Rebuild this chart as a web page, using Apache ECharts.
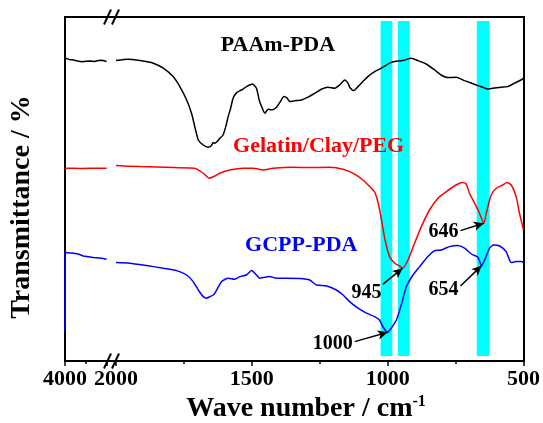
<!DOCTYPE html>
<html>
<head>
<meta charset="utf-8">
<script src="https://cdn.jsdelivr.net/npm/echarts@6/dist/echarts.min.js"></script>
<style>
  html, body { margin: 0; padding: 0; background: #ffffff; }
  #chart { width: 543px; height: 423px; }
</style>
</head>
<body>
<div id="chart"></div>
<script>
// FTIR spectra: [wavenumber (cm-1), transmittance (a.u., offset for stacking)]
const paamPda = [
  [4000,151.5],[3800,150.8],[3600,150.5],[3400,150.0],[3200,149.6],[3000,149.9],[2800,150.0],
  [2600,149.7],[2400,150.2],[2250,150.4],[2100,150.0],[2020,149.7],
  [2000,150.2],[1955,150.9],[1912,150.2],[1863,148.9],[1826,146.4],[1790,142.2],[1765,137.2],
  [1740,130.5],[1722,123.9],[1710,117.2],[1697,110.5],[1679,108.0],[1661,106.9],[1650,107.5],
  [1642,109.3],[1636,108.9],[1618,111.3],[1606,113.0],[1596,117.2],[1587,122.2],[1578,126.4],
  [1569,131.4],[1556,134.2],[1538,135.5],[1520,137.2],[1498,138.5],[1483,136.4],[1473,130.5],
  [1464,127.2],[1452,123.9],[1440,125.9],[1428,125.5],[1409,126.9],[1395,129.7],[1382,132.2],
  [1370,131.4],[1360,129.7],[1338,130.2],[1317,130.5],[1293,131.9],[1268,133.9],[1244,135.9],
  [1220,136.9],[1195,136.4],[1177,138.0],[1158,140.5],[1146,138.9],[1140,136.9],[1125,135.2],
  [1109,137.2],[1091,139.7],[1073,142.2],[1048,144.7],[1023,146.4],[993,148.9],[974,149.7],
  [944,150.2],[913,151.4],[889,150.2],[858,148.5],[827,145.5],[803,143.0],[778,141.7],
  [748,141.9],[717,140.2],[674,138.0],[650,136.9],[631,136.0],[613,136.4],[582,136.9],
  [558,137.2],[533,138.9],[503,141.0],[500,141.5]
];

const gelatinClayPeg = [
  [4000,96.4],[3600,96.4],[3200,96.3],[2800,96.4],[2400,96.4],[2020,96.4],
  [2000,97.7],[1912,97.2],[1790,96.7],[1710,96.4],[1679,93.9],[1657,91.4],[1636,92.5],
  [1618,93.9],[1581,95.5],[1532,96.4],[1495,96.4],[1459,95.5],[1422,96.4],[1348,96.9],
  [1287,96.7],[1213,96.9],[1164,95.9],[1128,93.9],[1091,90.5],[1066,87.2],[1048,84.5],
  [1036,79.5],[1026,73.0],[1011,61.5],[993,52.2],[974,48.9],[956,47.5],[945,46.4],
  [925,50.5],[901,58.9],[876,67.2],[846,75.5],[815,81.4],[784,84.7],[748,88.0],[724,89.2],
  [711,88.5],[699,83.9],[680,78.9],[662,73.9],[646,68.9],[637,73.9],[619,83.0],[600,86.4],
  [576,88.0],[561,89.2],[545,88.0],[527,82.2],[515,73.9],[503,67.2],[500,65.5]
];

const gcppPda = [
  [4000,14.7],[4000,54.2],[3600,53.9],[3370,53.5],[3130,52.5],[2650,51.7],[2250,51.4],[2020,50.9],
  [2000,49.2],[1949,48.9],[1887,47.7],[1826,46.4],[1777,45.2],[1740,43.0],[1716,39.7],
  [1697,35.5],[1679,32.2],[1667,31.4],[1654,32.2],[1642,33.0],[1636,33.9],[1611,39.7],
  [1587,41.4],[1563,40.9],[1544,42.2],[1520,43.0],[1501,45.2],[1489,43.9],[1471,41.4],
  [1452,41.9],[1434,42.2],[1409,41.4],[1373,41.4],[1324,41.2],[1287,40.5],[1262,38.0],
  [1225,37.5],[1189,35.5],[1164,33.0],[1140,29.7],[1109,26.4],[1078,23.9],[1048,22.2],
  [1030,20.5],[1017,17.0],[1000,14.4],[987,16.4],[968,20.5],[950,28.0],[931,37.2],
  [907,43.0],[882,47.2],[852,52.2],[827,55.2],[803,55.5],[772,57.2],[742,57.7],[717,56.4],
  [692,53.5],[668,51.9],[654,47.7],[643,50.5],[625,56.4],[610,58.0],[588,57.5],[564,54.7],
  [545,49.2],[527,49.7],[508,49.7],[500,49.2]
];

// highlighted absorption bands [from, to] in cm-1
const bandRanges = [[1026, 983], [962, 919], [672, 625]];

// labelled peaks and the spectrum each one sits on
const peakValues = [1000, 945, 654, 646];
const peakSpectra = ['GCPP-PDA', 'Gelatin/Clay/PEG', 'GCPP-PDA', 'Gelatin/Clay/PEG'];

// x-axis tick labels
const lowTicks = [2000, 1500, 1000, 500];
const highTicks = [4000];

// ---------------------------------------------------------------------------
const SERIF = '"Liberation Serif", "Times New Roman", serif';
const Y_MAX = 172;

// plot frame (px) and the two x segments either side of the axis break
const FRAME = { left: 65, right: 524, top: 17, bottom: 361 };
const HIGH_END = 107;   // right edge of the 4000-2000 segment
const LOW_START = 116;  // left edge of the 2000-500 segment
const W = 543, H = 423;

const spectra = [
  { name: 'PAAm-PDA', data: paamPda, color: '#000000', tag: [1404, 157.8] },
  { name: 'Gelatin/Clay/PEG', data: gelatinClayPeg, color: '#ff0000', tag: [1254, 107.2] },
  { name: 'GCPP-PDA', data: gcppPda, color: '#0000ff', tag: [1318, 57.8] }
];

// where each peak label's text ends and where its arrow starts
const peakLayout = {
  1000: { text: [1125, 8.8], from: [1121, 9.7] },
  945:  { text: [1019, 34.0], from: [1018, 38.3] },
  654:  { text: [736, 35.5], from: [732, 37.5] },
  646:  { text: [736, 64.8], from: [732, 65.2] }
};

const textStyle = (size, color) => ({
  color: color || '#000', fontFamily: SERIF, fontWeight: 'bold', fontSize: size
});

const series = [];

// cyan bands behind the spectra
series.push({
  type: 'line', xAxisIndex: 2, yAxisIndex: 2, data: [], silent: true, z: 1,
  markArea: {
    silent: true,
    itemStyle: { color: '#00ffff', opacity: 1 },
    data: bandRanges.map(r => [
      { xAxis: r[0], yAxis: 2.5 },
      { xAxis: r[1], yAxis: 170 }
    ])
  }
});

spectra.forEach(sp => {
  const high = sp.data.filter(p => p[0] > 2000);
  const low = sp.data.filter(p => p[0] <= 2000);
  series.push({
    name: sp.name, type: 'line', xAxisIndex: 1, yAxisIndex: 1, data: high,
    showSymbol: false, silent: true, z: 2,
    lineStyle: { color: sp.color, width: 1.5 }
  });

  const peaks = [];
  peakValues.forEach((wn, i) => { if (peakSpectra[i] === sp.name) peaks.push(wn); });

  series.push({
    name: sp.name, type: 'line', xAxisIndex: 2, yAxisIndex: 2, data: low,
    showSymbol: false, silent: true, z: 2, smooth: 0.2,
    lineStyle: { color: sp.color, width: 1.5 },
    markPoint: {
      silent: true, symbol: 'circle', symbolSize: 0,
      data: [
        { coord: sp.tag, label: Object.assign({ show: true, position: 'inside', formatter: sp.name }, textStyle(22, sp.color)) }
      ].concat(peaks.map(wn => ({
        coord: peakLayout[wn].text,
        label: Object.assign({ show: true, position: 'left', distance: 1, formatter: String(wn) }, textStyle(20))
      })))
    },
    markLine: {
      silent: true, animation: false,
      symbol: ['none', 'arrow'], symbolSize: [7, 10],
      label: { show: false },
      lineStyle: { color: '#000', width: 1.5, type: 'solid' },
      data: peaks.map(wn => {
        const pt = sp.data.find(p => p[0] === wn);
        return [{ coord: peakLayout[wn].from }, { coord: [wn, pt[1]] }];
      })
    }
  });
});

// "//" marks where the wavenumber axis is broken
const gapX = (HIGH_END + LOW_START) / 2;
const breakMarks = [];
[FRAME.top, FRAME.bottom].forEach(y => {
  [gapX - 4, gapX + 4].forEach(cx => {
    breakMarks.push({
      type: 'line', silent: true, z: 10,
      shape: { x1: cx - 3.5, y1: y + 7.5, x2: cx + 3.5, y2: y - 7.5 },
      style: { stroke: '#000', lineWidth: 2 }
    });
  });
});

const hiddenAxis = { show: false };

const option = {
  animation: false,
  backgroundColor: '#ffffff',
  grid: [
    { left: FRAME.left, right: W - FRAME.right, top: FRAME.top, bottom: H - FRAME.bottom,
      show: true, borderColor: '#000', borderWidth: 2, backgroundColor: 'transparent' },
    { left: FRAME.left, width: HIGH_END - FRAME.left, top: FRAME.top, bottom: H - FRAME.bottom },
    { left: LOW_START, right: W - FRAME.right, top: FRAME.top, bottom: H - FRAME.bottom }
  ],
  xAxis: [
    Object.assign({ type: 'value', gridIndex: 0, min: 0, max: 1 }, hiddenAxis),
    {
      type: 'value', gridIndex: 1, min: 2000, max: 4000, interval: 2000, inverse: true,
      axisLine: { show: false },
      axisTick: { show: true, length: 5, lineStyle: { color: '#000', width: 1.5 } },
      minorTick: { show: true, splitNumber: 2, length: 3, lineStyle: { color: '#000', width: 1.5 } },
      splitLine: { show: false },
      axisLabel: Object.assign({ margin: 7, formatter: v => highTicks.includes(v) ? String(v) : '' }, textStyle(22))
    },
    {
      type: 'value', gridIndex: 2, min: 500, max: 2000, interval: 500, inverse: true,
      axisLine: { show: false },
      axisTick: { show: true, length: 5, lineStyle: { color: '#000', width: 1.5 } },
      minorTick: { show: true, splitNumber: 2, length: 3, lineStyle: { color: '#000', width: 1.5 } },
      splitLine: { show: false },
      axisLabel: Object.assign({ margin: 7, formatter: v => lowTicks.includes(v) ? String(v) : '' }, textStyle(22))
    }
  ],
  yAxis: [0, 1, 2].map(i => ({ type: 'value', gridIndex: i, min: 0, max: Y_MAX, show: false })),
  series: series,
  graphic: [
    {
      type: 'text', silent: true, x: 22, y: 207, rotation: Math.PI / 2,
      style: {
        text: 'Transmittance / %', align: 'center', verticalAlign: 'middle',
        fill: '#000', font: 'bold 28px ' + SERIF
      }
    },
    {
      type: 'text', silent: true, x: 306, y: 409,
      style: {
        text: '{a|Wave number / cm}{b|-1}', align: 'center', verticalAlign: 'middle',
        fill: '#000',
        rich: {
          a: { fontFamily: SERIF, fontWeight: 'bold', fontSize: 28, lineHeight: 30, fill: '#000' },
          b: { fontFamily: SERIF, fontWeight: 'bold', fontSize: 16, lineHeight: 30, verticalAlign: 'top', fill: '#000' }
        }
      }
    }
  ].concat(breakMarks)
};

const chart = echarts.init(document.getElementById('chart'), null, { renderer: 'canvas' });
chart.setOption(option);
</script>
</body>
</html>
